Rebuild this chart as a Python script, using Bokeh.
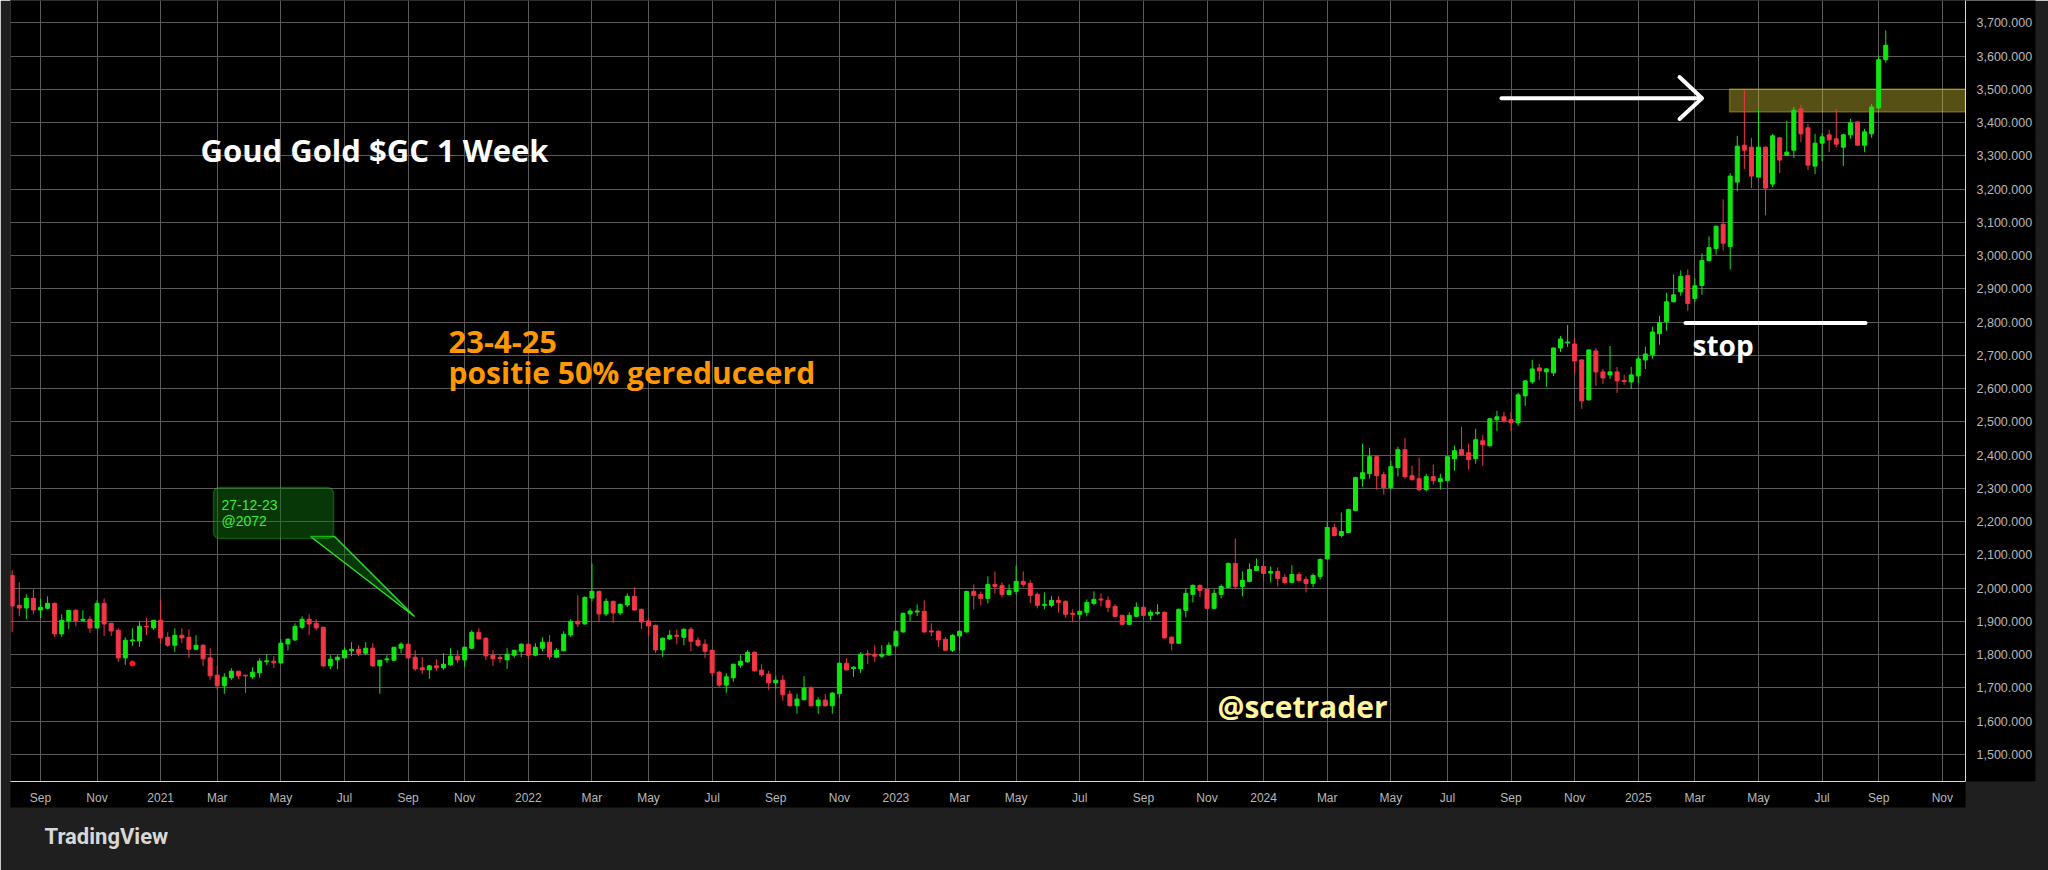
import pandas as pd
from bokeh.plotting import figure
from bokeh.models import (ColumnDataSource, Range1d, FixedTicker, SingleIntervalTicker,
                          NumeralTickFormatter, Label, BoxAnnotation, Title)
from bokeh.embed import file_html
from bokeh.resources import INLINE

# ---------------- data ----------------
first_week = "2020-08-10"   # weekly bars, one per week from here

opens = [2038, 1948, 1940, 1969, 1934, 1939, 1954, 1862, 1901, 1933,
         1903, 1906, 1880, 1954, 1894, 1873, 1790, 1841, 1841, 1885,
         1880, 1903, 1852, 1828, 1858, 1852, 1816, 1828, 1790, 1738,
         1706, 1730, 1750, 1738, 1733, 1745, 1778, 1780, 1775, 1832,
         1844, 1882, 1906, 1894, 1882, 1766, 1784, 1790, 1811, 1816,
         1804, 1819, 1766, 1784, 1783, 1819, 1831, 1792, 1760, 1754,
         1766, 1760, 1769, 1795, 1784, 1819, 1867, 1849, 1798, 1791,
         1784, 1798, 1810, 1831, 1798, 1819, 1837, 1792, 1811, 1859,
         1900, 1892, 1970, 1990, 1922, 1960, 1925, 1949, 1975, 1936,
         1901, 1888, 1814, 1847, 1858, 1852, 1876, 1843, 1831, 1813,
         1747, 1708, 1730, 1768, 1778, 1807, 1753, 1741, 1715, 1723,
         1681, 1646, 1664, 1699, 1646, 1663, 1646, 1682, 1774, 1758,
         1757, 1802, 1801, 1795, 1799, 1826, 1868, 1922, 1928, 1930,
         1871, 1870, 1846, 1813, 1856, 1868, 1990, 1981, 1969, 2011,
         2008, 1981, 1990, 2020, 2014, 1981, 1948, 1948, 1963, 1960,
         1924, 1921, 1927, 1954, 1967, 1963, 1945, 1918, 1891, 1915,
         1942, 1918, 1924, 1927, 1852, 1834, 1933, 1981, 2008, 1996,
         1939, 1981, 2002, 2074, 2005, 2020, 2053, 2065, 2045, 2050,
         2032, 2017, 2041, 2026, 2014, 2035, 2088, 2182, 2158, 2167,
         2233, 2329, 2344, 2395, 2341, 2302, 2362, 2416, 2338, 2329,
         2296, 2335, 2320, 2323, 2389, 2416, 2407, 2389, 2443, 2428,
         2506, 2515, 2506, 2497, 2578, 2620, 2662, 2650, 2647, 2722,
         2737, 2734, 2686, 2566, 2713, 2650, 2641, 2650, 2624, 2620,
         2638, 2686, 2702, 2765, 2801, 2861, 2891, 2940, 2871, 2910,
         2985, 3021, 3094, 3027, 3221, 3332, 3326, 3236, 3326, 3215,
         3354, 3302, 3317, 3441, 3384, 3269, 3338, 3363, 3351, 3326,
         3363, 3402, 3332, 3366, 3444, 3589]

highs = [2053, 2017, 1981, 1996, 1968, 1975, 1957, 1921, 1933, 1936,
         1933, 1915, 1963, 1969, 1894, 1879, 1852, 1879, 1900, 1909,
         1903, 1963, 1867, 1879, 1879, 1876, 1858, 1831, 1819, 1766,
         1744, 1759, 1750, 1738, 1762, 1789, 1801, 1795, 1846, 1849,
         1894, 1915, 1921, 1906, 1884, 1798, 1798, 1821, 1837, 1828,
         1837, 1834, 1783, 1798, 1822, 1837, 1834, 1813, 1792, 1769,
         1786, 1804, 1819, 1813, 1822, 1873, 1879, 1852, 1813, 1798,
         1819, 1813, 1834, 1834, 1834, 1852, 1858, 1819, 1870, 1906,
         1978, 1975, 2074, 1992, 1969, 1962, 1953, 1984, 2002, 1938,
         1910, 1890, 1852, 1873, 1876, 1879, 1882, 1852, 1846, 1815,
         1750, 1744, 1772, 1798, 1813, 1809, 1771, 1751, 1735, 1738,
         1693, 1681, 1735, 1705, 1672, 1681, 1687, 1776, 1789, 1765,
         1807, 1813, 1828, 1828, 1837, 1872, 1926, 1939, 1951, 1963,
         1894, 1873, 1852, 1861, 1873, 1992, 2011, 1990, 2035, 2050,
         2017, 2011, 2068, 2050, 2023, 1987, 1987, 1975, 1975, 1963,
         1936, 1933, 1966, 1990, 1984, 1975, 1951, 1920, 1927, 1957,
         1948, 1933, 1951, 1930, 1854, 1938, 1999, 2011, 2011, 1998,
         1996, 2011, 2077, 2149, 2050, 2074, 2089, 2080, 2065, 2062,
         2041, 2068, 2047, 2035, 2044, 2089, 2200, 2194, 2227, 2239,
         2335, 2434, 2422, 2397, 2350, 2383, 2425, 2452, 2368, 2392,
         2344, 2371, 2344, 2397, 2428, 2485, 2434, 2479, 2461, 2512,
         2533, 2530, 2530, 2587, 2626, 2686, 2674, 2662, 2724, 2758,
         2791, 2752, 2688, 2718, 2722, 2659, 2728, 2665, 2641, 2665,
         2698, 2726, 2786, 2819, 2888, 2943, 2955, 2958, 2931, 3006,
         3058, 3090, 3169, 3248, 3360, 3499, 3354, 3438, 3328, 3366,
         3357, 3405, 3447, 3453, 3396, 3366, 3369, 3378, 3441, 3366,
         3411, 3404, 3381, 3456, 3601, 3677]

lows = [1868, 1915, 1907, 1921, 1910, 1936, 1853, 1853, 1877, 1886,
        1898, 1865, 1877, 1856, 1856, 1778, 1769, 1826, 1823, 1858,
        1874, 1832, 1823, 1808, 1835, 1790, 1813, 1766, 1724, 1694,
        1682, 1724, 1727, 1685, 1727, 1730, 1769, 1760, 1772, 1813,
        1841, 1876, 1859, 1873, 1763, 1756, 1756, 1789, 1795, 1795,
        1798, 1763, 1682, 1775, 1780, 1804, 1788, 1751, 1742, 1727,
        1751, 1754, 1766, 1775, 1763, 1816, 1845, 1784, 1766, 1775,
        1757, 1790, 1792, 1787, 1795, 1810, 1784, 1790, 1811, 1853,
        1883, 1890, 1961, 1898, 1916, 1895, 1919, 1943, 1931, 1877,
        1856, 1805, 1793, 1844, 1831, 1828, 1810, 1823, 1790, 1736,
        1703, 1685, 1718, 1760, 1775, 1749, 1733, 1694, 1697, 1661,
        1644, 1622, 1662, 1644, 1622, 1643, 1622, 1670, 1752, 1733,
        1745, 1772, 1778, 1790, 1796, 1823, 1866, 1901, 1916, 1865,
        1855, 1823, 1811, 1808, 1813, 1866, 1936, 1948, 1954, 1984,
        1972, 1978, 1981, 2002, 1954, 1939, 1936, 1942, 1927, 1912,
        1897, 1906, 1915, 1948, 1945, 1927, 1913, 1888, 1888, 1913,
        1916, 1903, 1918, 1848, 1813, 1832, 1912, 1957, 1972, 1936,
        1936, 1969, 2000, 1996, 1975, 2017, 2051, 2026, 2017, 2005,
        2011, 2015, 2017, 1987, 2002, 2026, 2084, 2155, 2152, 2165,
        2231, 2305, 2329, 2296, 2281, 2296, 2335, 2329, 2323, 2290,
        2290, 2311, 2296, 2321, 2353, 2398, 2356, 2374, 2368, 2426,
        2473, 2497, 2473, 2488, 2548, 2614, 2626, 2605, 2638, 2710,
        2725, 2644, 2539, 2564, 2608, 2614, 2629, 2587, 2611, 2599,
        2617, 2659, 2690, 2732, 2774, 2859, 2879, 2834, 2861, 2882,
        2982, 3003, 3015, 2958, 3193, 3260, 3203, 3234, 3121, 3206,
        3248, 3300, 3293, 3341, 3257, 3245, 3284, 3311, 3326, 3269,
        3351, 3330, 3311, 3354, 3441, 3580]

closes = [1946, 1940, 1969, 1934, 1942, 1954, 1862, 1903, 1933, 1901,
          1906, 1880, 1954, 1892, 1871, 1790, 1843, 1844, 1885, 1883,
          1903, 1850, 1828, 1858, 1850, 1816, 1828, 1787, 1736, 1706,
          1732, 1750, 1736, 1736, 1747, 1780, 1781, 1775, 1834, 1846,
          1885, 1906, 1892, 1880, 1766, 1786, 1792, 1813, 1816, 1804,
          1819, 1766, 1783, 1787, 1822, 1831, 1790, 1757, 1754, 1766,
          1760, 1771, 1795, 1784, 1822, 1867, 1847, 1796, 1787, 1788,
          1801, 1813, 1831, 1798, 1822, 1837, 1793, 1813, 1861, 1900,
          1892, 1972, 1990, 1922, 1960, 1925, 1951, 1975, 1934, 1898,
          1886, 1814, 1849, 1858, 1855, 1876, 1840, 1828, 1810, 1745,
          1708, 1733, 1771, 1780, 1807, 1751, 1739, 1715, 1723, 1679,
          1646, 1666, 1699, 1646, 1663, 1646, 1684, 1774, 1754, 1762,
          1801, 1799, 1795, 1801, 1828, 1870, 1924, 1931, 1931, 1868,
          1868, 1844, 1813, 1858, 1870, 1990, 1978, 1969, 2011, 2005,
          1981, 1993, 2020, 2011, 1978, 1948, 1951, 1963, 1957, 1921,
          1921, 1930, 1957, 1966, 1964, 1942, 1915, 1891, 1918, 1942,
          1918, 1927, 1927, 1850, 1834, 1936, 1984, 2008, 1993, 1939,
          1984, 2005, 2074, 2005, 2023, 2056, 2065, 2044, 2050, 2029,
          2017, 2041, 2023, 2014, 2038, 2086, 2182, 2158, 2170, 2236,
          2332, 2347, 2395, 2338, 2302, 2365, 2416, 2335, 2326, 2296,
          2335, 2323, 2329, 2395, 2413, 2401, 2386, 2446, 2431, 2509,
          2515, 2503, 2497, 2581, 2623, 2659, 2653, 2659, 2722, 2749,
          2740, 2683, 2563, 2716, 2650, 2632, 2650, 2623, 2621, 2641,
          2689, 2704, 2770, 2798, 2861, 2882, 2937, 2856, 2909, 2985,
          3024, 3088, 3037, 3239, 3329, 3317, 3239, 3326, 3203, 3360,
          3287, 3311, 3437, 3366, 3272, 3338, 3357, 3348, 3335, 3363,
          3399, 3332, 3372, 3447, 3589, 3632.485]

tick_dates = ["2020-09-07", "2020-11-02", "2021-01-04", "2021-03-01", "2021-05-03",
              "2021-07-05", "2021-09-06", "2021-11-01", "2022-01-03", "2022-03-07",
              "2022-05-02", "2022-07-04", "2022-09-05", "2022-11-07", "2023-01-02",
              "2023-03-06", "2023-05-01", "2023-07-03", "2023-09-04", "2023-11-06",
              "2024-01-01", "2024-03-04", "2024-05-06", "2024-07-01", "2024-09-02",
              "2024-11-04", "2025-01-06", "2025-03-03", "2025-05-05", "2025-07-07",
              "2025-09-01", "2025-11-03"]
tick_labels = ["Sep", "Nov", "2021", "Mar", "May", "Jul", "Sep", "Nov", "2022", "Mar",
               "May", "Jul", "Sep", "Nov", "2023", "Mar", "May", "Jul", "Sep", "Nov",
               "2024", "Mar", "May", "Jul", "Sep", "Nov", "2025", "Mar", "May", "Jul",
               "Sep", "Nov"]

marker_week = [17]          # small red event dot
marker_price = [1773]

last_price = 3632.485
countdown = "1d 6h"
title_text = "Goud Gold $GC 1 Week"
note_date = "23-4-25"
note_text = "positie 50% gereduceerd"
callout_lines = ["27-12-23", "@2072"]
stop_text = "stop"
stop_price = 2797
zone_low, zone_high = 3432, 3501
watermark = "@scetrader"
brand = "TradingView"

# ---------------- geometry helpers (reference pixel -> data) ----------------
X0 = pd.Timestamp(first_week)
X0_PX, PX_PER_DAY = 11.7, 1.01
Y_REF_PX, Y_REF_PRICE, PX_PER_UNIT = 554.3, 2100.0, 0.3325
FRAME_L, FRAME_R, FRAME_T, FRAME_B = 10, 1965, 0, 781
W, H = 2048, 870


def ms(ts):
    return pd.Timestamp(ts).value / 1e6


def px_x(px):
    return ms(X0 + pd.Timedelta(days=(px - X0_PX) / PX_PER_DAY))


def px_y(py):
    return Y_REF_PRICE - (py - Y_REF_PX) / PX_PER_UNIT


def sx(px):   # screen x relative to the frame's left edge
    return px - FRAME_L


DAY_MS = 86400000.0
PANEL = "#1f1f1f"

# ---------------- sources ----------------
UP, DOWN = "#12e612", "#f23645"
dates = pd.date_range(first_week, periods=len(opens), freq="7D")
df = pd.DataFrame(dict(date=dates, open=opens, high=highs, low=lows, close=closes))
df["top"] = df[["open", "close"]].max(axis=1)
df["bottom"] = df[["open", "close"]].min(axis=1)
df["color"] = [UP if c >= o else DOWN for o, c in zip(df["open"], df["close"])]
src = ColumnDataSource(df)

# ---------------- figure ----------------
p = figure(width=W, height=H, x_axis_type="datetime", y_axis_location="right",
           x_range=Range1d(px_x(FRAME_L), px_x(FRAME_R)),
           y_range=Range1d(px_y(FRAME_B), px_y(FRAME_T)),
           output_backend="svg", toolbar_location=None,
           min_border_left=FRAME_L, min_border_right=W - FRAME_R,
           min_border_top=FRAME_T, min_border_bottom=H - FRAME_B,
           background_fill_color="#000000", border_fill_color=PANEL,
           outline_line_color="#2e2e2e")

# axes
tick_ms = [ms(d) for d in tick_dates]
p.xaxis.ticker = FixedTicker(ticks=tick_ms)
p.xaxis.major_label_overrides = {t: lab for t, lab in zip(tick_ms, tick_labels)}
p.yaxis.ticker = SingleIntervalTicker(interval=100)
p.yaxis.formatter = NumeralTickFormatter(format="0,0.000")
for ax in (p.xaxis[0], p.yaxis[0]):
    ax.major_tick_in = 0
    ax.major_tick_out = 0
    ax.minor_tick_in = 0
    ax.minor_tick_out = 0
    ax.axis_line_color = "#d8d8d8"
    ax.axis_line_width = 1
    ax.major_label_text_color = "#b8b8b8"
    ax.major_label_text_font = "Liberation Sans"
    ax.background_fill_color = "#000000"
p.xaxis.major_label_text_font_size = "12px"
p.yaxis.major_label_text_font_size = "12.5px"
p.xaxis.major_label_standoff = 9
p.yaxis.major_label_standoff = 11

p.xgrid.ticker = FixedTicker(ticks=tick_ms)
p.ygrid.ticker = SingleIntervalTicker(interval=100)
for g in (p.xgrid[0], p.ygrid[0]):
    g.grid_line_color = "#5a5a5a"
    g.grid_line_width = 1

# footer wordmark, stacked below the time axis
p.add_layout(Title(text=brand, align="left", offset=34, standoff=30,
                   vertical_align="middle", text_color="#d8d8d8", text_font="Roboto",
                   text_font_style="bold", text_font_size="22px"), "below")

# resistance zone (below candles)
p.add_layout(BoxAnnotation(left=px_x(1729), bottom=zone_low, top=zone_high,
                           fill_color="#ffeb3b", fill_alpha=0.34,
                           line_color="#f2d52a", line_width=1.5, level="underlay"))

# candles
p.segment(x0="date", y0="high", x1="date", y1="low", line_color="color",
          line_width=1, source=src)
p.vbar(x="date", width=4.0 / PX_PER_DAY * DAY_MS, top="top", bottom="bottom",
       fill_color="color", line_color="color", line_width=1, source=src)

# event dot
p.scatter(x=[dates[i] for i in marker_week], y=marker_price, size=5,
          fill_color="#ff1a1a", line_color="#ff1a1a")

# callout (27-12-23 @2072)
CALLOUT_FILL, CALLOUT_LINE = "#0f7a0f", "#27e027"
p.patch([px_x(310), px_x(414), px_x(334)], [px_y(536), px_y(616), px_y(536)],
        fill_color=CALLOUT_FILL, fill_alpha=0.45, line_color=CALLOUT_LINE, line_width=1.5)
p.add_layout(BoxAnnotation(left=px_x(213), right=px_x(333), top=px_y(487), bottom=px_y(538),
                           fill_color=CALLOUT_FILL, fill_alpha=0.45,
                           line_color=CALLOUT_LINE, line_width=1.5, border_radius=6))
for i, line in enumerate(callout_lines):
    p.add_layout(Label(x=px_x(221), y=px_y(504 + 16 * i), text=line,
                       text_color="#3bec3b", text_font="Liberation Sans",
                       text_font_size="14px", text_baseline="middle"))

# arrow pointing at the zone
p.multi_line([[px_x(1501), px_x(1701)], [px_x(1679), px_x(1701.5), px_x(1679)]],
             [[px_y(97.7), px_y(97.7)], [px_y(76.5), px_y(97.7), px_y(118.5)]],
             line_color="white", line_width=4, line_cap="round", line_join="round")

# stop line
p.line([px_x(1685), px_x(1865)], [stop_price, stop_price], line_color="white",
       line_width=4, line_cap="round")


# texts (baseline positions, corrected for Bokeh's text box)
def add_text(txt, xpx, ypx, color, size, bold=True):
    p.add_layout(Label(x=px_x(xpx), y=px_y(ypx - 11), text=txt, text_color=color,
                       text_font="Open Sans", text_font_size=size,
                       text_font_style="bold" if bold else "normal",
                       text_baseline="alphabetic"))


add_text(title_text, 200, 160, "#ffffff", "31px")
add_text(note_date, 448, 352, "#ff9800", "31px")
add_text(note_text, 448, 383, "#ff9800", "30px")
add_text(stop_text, 1692, 355, "#ffffff", "28px")
add_text(watermark, 1217, 717, "#fff59d", "30px")

# last price tag on the price scale: lower row first, then upper row on top
price_px = Y_REF_PX + (Y_REF_PRICE - last_price) * PX_PER_UNIT
tag_rows = [(" " + countdown + " " * 9, 55), (" " + f"{last_price:,.3f}" + " ", 39)]
for txt, top_px in tag_rows:
    p.add_layout(Label(x=sx(1969), x_units="screen",
                       y=last_price + (price_px - top_px) / PX_PER_UNIT,
                       text=txt, text_baseline="top",
                       text_color="#101010", text_font="Liberation Sans",
                       text_font_size="12px", background_fill_color=UP,
                       padding=2, level="overlay"))

open("out.html", "w").write(file_html(p, INLINE))
